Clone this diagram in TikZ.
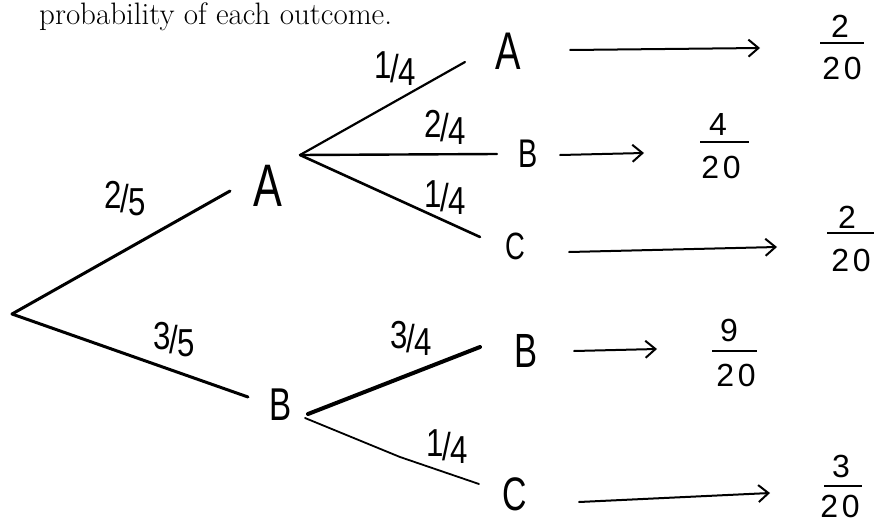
\documentclass[tikz,border=0pt]{standalone}
\usepackage{fontspec}
\newfontfamily\handf[FakeStretch=0.72]{Liberation Sans}
\newfontfamily\handl[FakeStretch=0.8]{Liberation Sans}
\newfontfamily\handn[LetterSpace=12]{Liberation Sans}
\usetikzlibrary{arrows.meta}
\tikzset{
  lett/.style={inner sep=0pt, font=\handf\fontsize{#1}{#1}\selectfont},
  elab/.style={inner sep=0pt, font=\handl\fontsize{39}{39}\selectfont},
  frn/.style={inner sep=0pt, font=\handn\fontsize{32}{32}\selectfont},
  branch/.style={line width=#1, line cap=round, line join=round},
  outarrow/.style={line width=2pt, line cap=round, -{Straight Barb[length=10pt,width=17pt,line width=2pt]}},
  fbar/.style={line width=2pt}
}
\newcommand{\fr}[2]{\raisebox{4pt}{#1}\kern-1pt/\kern-1pt\raisebox{-3pt}{#2}}
\begin{document}
\begin{tikzpicture}[x=1pt,y=-1pt]
\useasboundingbox (0,0) rectangle (874,527);
% heading text
\node[anchor=base west, inner sep=0pt, font=\fontsize{31}{36}\selectfont] (head) at (39,25) {probability of each outcome.};

% junction and end coordinates
\coordinate (root) at (12,314);
\coordinate (aend) at (230,191);
\coordinate (bend) at (248,397);
\coordinate (aj) at (300,155);
\coordinate (aAend) at (465,62);
\coordinate (aBend) at (497,154);
\coordinate (aCend) at (480,237);
\coordinate (bj) at (308,414);
\coordinate (bj2) at (305,418);
\coordinate (bBend) at (480,347);
\coordinate (bkink) at (400,457);
\coordinate (bCend) at (479,484);

% outcome letters
\node[lett=60] (A) at (268,186) {A};
\node[lett=46] (B) at (281,405) {B};
\node[lett=53] (AA) at (508,51) {A};
\node[lett=40] (AB) at (528,154) {B};
\node[lett=38] (AC) at (515,246) {C};
\node[lett=48] (BB) at (526,351) {B};
\node[lett=47] (BC) at (515,494) {C};

% branches
\draw[branch=3pt] (root) -- (aend);
\draw[branch=3pt] (root) -- (bend);
\draw[branch=2.2pt] (aj) -- (aAend);
\draw[branch=2.4pt] (aj) -- (aBend);
\draw[branch=2.6pt] (aj) -- (aCend);
\draw[branch=4pt] (bj) -- (bBend);
\draw[branch=1.8pt] (bj2) -- (bkink) -- (bCend);

% branch labels
\node[elab] (l25) at (125,199) {\fr{2}{5}};
\node[elab] (l35) at (174,340) {\fr{3}{5}};
\node[elab] (l14a) at (395,69) {\fr{1}{4}};
\node[elab] (l24) at (445,127) {\fr{2}{4}};
\node[elab] (l14b) at (445,198) {\fr{1}{4}};
\node[elab] (l34) at (411,338) {\fr{3}{4}};
\node[elab] (l14c) at (447,447) {\fr{1}{4}};

% arrow coordinates
\coordinate (s1) at (570,50);  \coordinate (e1) at (760,48);
\coordinate (s2) at (560,155); \coordinate (e2) at (644,153);
\coordinate (s3) at (569,252); \coordinate (e3) at (777,247);
\coordinate (s4) at (574,351); \coordinate (e4) at (657,349);
\coordinate (s5) at (579,502); \coordinate (e5) at (770,493);
\draw[outarrow] (s1) -- (e1);
\draw[outarrow] (s2) -- (e2);
\draw[outarrow] (s3) -- (e3);
\draw[outarrow] (s4) -- (e4);
\draw[outarrow] (s5) -- (e5);

% result fractions
\node[frn] (n1) at (840,26) {2};
\node[frn] (d1) at (842,68) {20};
\draw[fbar] (820,43) -- (864,43);
\node[frn] (n2) at (718,124) {4};
\node[frn] (d2) at (721,167) {20};
\draw[fbar] (700,142) -- (749,142);
\node[frn] (n3) at (847,217) {2};
\node[frn] (d3) at (851,260) {20};
\draw[fbar] (827,233) -- (874,233);
\node[frn] (n4) at (729,330) {9};
\node[frn] (d4) at (736,375) {20};
\draw[fbar] (712,351) -- (757,351);
\node[frn] (n5) at (841,466) {3};
\node[frn] (d5) at (840,506) {20};
\draw[fbar] (824,486) -- (862,486);
\end{tikzpicture}
\end{document}
